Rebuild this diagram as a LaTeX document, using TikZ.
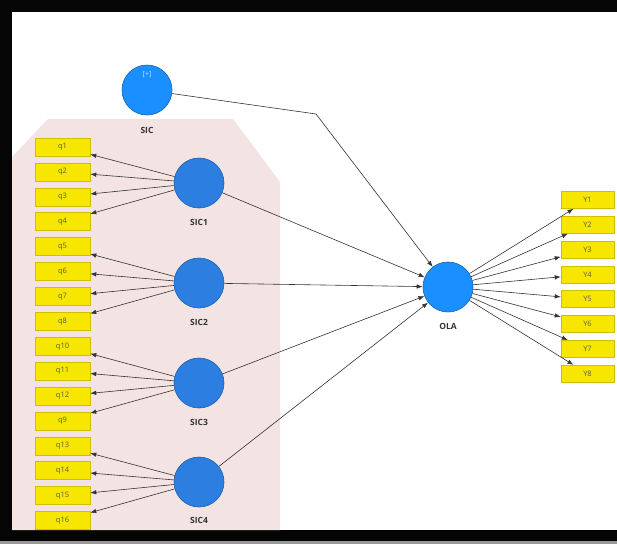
\documentclass[tikz,border=0pt]{standalone}
\usepackage{fontspec}
\setmainfont{Open Sans}
\usetikzlibrary{arrows.meta}

\definecolor{frameblack}{HTML}{050505}
\definecolor{shadowgray}{HTML}{9A9A9A}
\definecolor{panelpink}{HTML}{F3E3E3}
\definecolor{indyellow}{HTML}{F7E600}
\definecolor{indborder}{HTML}{D2BE00}
\definecolor{lvblue}{HTML}{2C7FE0}
\definecolor{lvbright}{HTML}{1A8FFF}
\definecolor{lvedge}{HTML}{1D5FA8}
\definecolor{linkgray}{HTML}{333333}
\definecolor{labelgray}{HTML}{333333}
\definecolor{itemtext}{HTML}{5C5C48}
\definecolor{signtext}{HTML}{C8E2FF}

\begin{document}
\begin{tikzpicture}[x=1pt,y=-1pt,
  item/.style={draw=indborder, fill=indyellow, line width=0.5pt,
    minimum width=55pt, minimum height=18pt, inner sep=0pt,
    font=\fontsize{7.5}{9}\selectfont, text=itemtext},
  yitem/.style={item, minimum width=53pt, minimum height=17pt},
  latent/.style={circle, draw=lvedge, fill=lvblue, line width=0.6pt,
    minimum size=50pt, inner sep=0pt},
  bright/.style={latent, fill=lvbright},
  lvlabel/.style={font=\bfseries\fontsize{8.5}{10}\selectfont, text=labelgray, inner sep=0pt},
  link/.style={draw=linkgray, line width=0.6pt, -{Latex[length=6pt,width=4.5pt]}},
  plain/.style={draw=linkgray, line width=0.6pt}
]
\useasboundingbox (0,0) rectangle (617,544);

% frame and background
\fill[frameblack] (0,0) rectangle (617,541);
\fill[shadowgray] (0,541) rectangle (617,544);
\fill[white] (12,12) rectangle (617,530);

% block of the SIC dimensions
\fill[panelpink] (48,119) -- (233,119) -- (280,182) -- (280,530)
  -- (12,530) -- (12,157) -- cycle;

% latent variables
\node[bright] (sic)  at (147,90)  {};
\node[font=\fontsize{7}{8}\selectfont, text=signtext, inner sep=0pt] (sign) at (147,75) {[+]};
\node[lvlabel] (siclab) at (147,130) {SIC};

\node[latent] (sic1) at (199,183) {};
\node[lvlabel] (sic1lab) at (199,222) {SIC1};
\node[latent] (sic2) at (199,283) {};
\node[lvlabel] (sic2lab) at (199,322) {SIC2};
\node[latent] (sic3) at (199,383) {};
\node[lvlabel] (sic3lab) at (199,422) {SIC3};
\node[latent] (sic4) at (199,482) {};
\node[lvlabel] (sic4lab) at (199,520) {SIC4};

\node[bright] (ola) at (448,287) {};
\node[lvlabel] (olalab) at (448,326) {OLA};

% indicators of the SIC dimensions
\foreach \name/\lab/\k in {q1/q1/0, q2/q2/1, q3/q3/2, q4/q4/3,
    q5/q5/4, q6/q6/5, q7/q7/6, q8/q8/7,
    q10/q10/8, q11/q11/9, q12/q12/10, q9/q9/11,
    q13/q13/12, q14/q14/13, q15/q15/14, q16/q16/15}
  \node[item] (\name) at (62.5,{147+24.9*\k}) {\lab};

% indicators of OLA
\foreach \k in {1,...,8}
  \node[yitem] (y\k) at (587.5,{200+24.8*(\k-1)}) {Y\k};

% outer loadings
\foreach \q in {q1,q2,q3,q4} \draw[link] (sic1) -- (\q);
\foreach \q in {q5,q6,q7,q8} \draw[link] (sic2) -- (\q);
\foreach \q in {q10,q11,q12,q9} \draw[link] (sic3) -- (\q);
\foreach \q in {q13,q14,q15,q16} \draw[link] (sic4) -- (\q);
\foreach \k in {1,...,8} \draw[link] (ola) -- (y\k);

% structural paths
\coordinate (bend) at (316,114);
\draw[plain] (sic) -- (bend);
\draw[link] (bend) -- (ola);
\foreach \s in {sic1,sic2,sic3,sic4} \draw[link] (\s) -- (ola);
\end{tikzpicture}
\end{document}
